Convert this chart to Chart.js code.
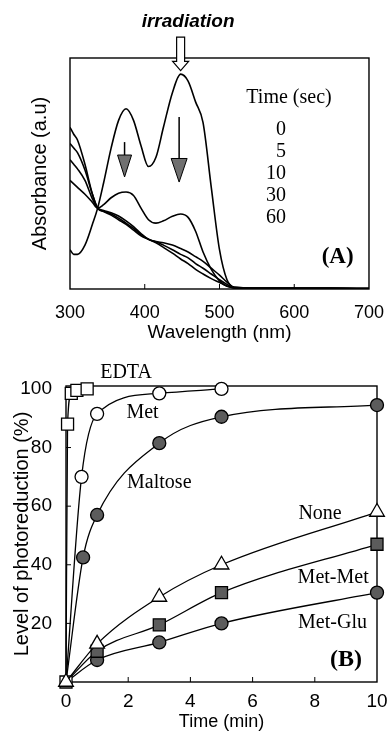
<!DOCTYPE html>
<html>
<head>
<meta charset="utf-8">
<script src="https://cdn.jsdelivr.net/npm/chart.js@4"></script>
<style>
  body { margin: 0; background: #fff; overflow: hidden; }
  canvas { position: absolute; left: 0; display: block; }
</style>
</head>
<body>
<canvas id="spectra" width="389" height="350" style="top:0"></canvas>
<canvas id="photo" width="389" height="383" style="top:350px"></canvas>
<script>
// panel A - absorption spectra (arbitrary units)
const wavelength = [300,305,310,320,330,337,345,355,365,375,385,395,405,415,425,437,448,458,468,478,489,500,510,520,550,600,650,700];
const abs0  = [.17,.15,.15,.19,.28,.35,.46,.61,.73,.78,.73,.62,.53,.57,.70,.85,.93,.90,.81,.72,.44,.17,.04,.008,.004,.003,.003,.002];
const abs5  = [.47,.455,.44,.41,.375,.35,.365,.395,.415,.42,.405,.35,.30,.285,.295,.315,.325,.31,.25,.16,.085,.035,.012,.005,.003,.003,.003,.002];
const abs10 = [.56,.54,.52,.47,.39,.35,.34,.33,.316,.295,.27,.24,.215,.205,.20,.19,.175,.16,.14,.12,.09,.06,.03,.006,.003,.003,.003,.002];
const abs30 = [.63,.61,.59,.515,.41,.35,.337,.325,.307,.285,.262,.235,.215,.205,.19,.17,.15,.135,.11,.09,.065,.04,.02,.005,.003,.003,.003,.002];
const abs60 = [.70,.67,.645,.54,.41,.35,.335,.32,.30,.28,.255,.23,.215,.20,.18,.155,.13,.11,.085,.065,.045,.028,.013,.004,.003,.003,.003,.002];
const timeSec = ['0', '5', '10', '30', '60'];

// panel B - level of photoreduction (%) vs time (min)
const edtaTime = [0, 0.05, 0.17, 0.35, 0.68];
const edta     = [0, 88, 98.5, 99.5, 100];
const metTime  = [0, 0.5, 1, 3, 5];
const met      = [0, 70, 91.5, 98.5, 100];
const maltoseTime = [0, 0.55, 1, 3, 5, 10];
const maltose     = [0, 42.5, 57, 81.5, 90.5, 94.5];
const stdTime = [0, 1, 3, 5, 10];
const none    = [0, 13, 29, 40, 58];
const metMet  = [0, 10.5, 19.5, 30.5, 47];
const metGlu  = [0, 7.5, 13.5, 20, 30.5];
const percentTicks = [20, 40, 60, 80, 100];

const xy = (xs, ys) => xs.map((x, i) => ({ x: x, y: ys[i] }));

Chart.defaults.font.family = '"Liberation Sans", Arial, sans-serif';
Chart.defaults.color = '#000';
Chart.defaults.animation = false;

const SERIF = '"Liberation Serif", "Times New Roman", serif';

// box around the plot + small inward ticks
function frame(ticksX, ticksY) {
  return {
    id: 'frame',
    beforeDatasetsDraw(chart) {
      const { ctx, chartArea: a, scales } = chart;
      ctx.save();
      ctx.strokeStyle = '#000';
      ctx.lineWidth = 1.4;
      ctx.strokeRect(a.left, a.top, a.right - a.left, a.bottom - a.top);
      ctx.lineWidth = 1;
      ctx.beginPath();
      ticksX.forEach(v => {
        const px = scales.x.getPixelForValue(v);
        ctx.moveTo(px, a.bottom); ctx.lineTo(px, a.bottom - 5);
      });
      ticksY.forEach(v => {
        const py = scales.y.getPixelForValue(v);
        ctx.moveTo(a.left, py); ctx.lineTo(a.left + 5, py);
      });
      ctx.stroke();
      ctx.restore();
    }
  };
}

function text(ctx, s, x, y, font, align) {
  ctx.font = font;
  ctx.textAlign = align || 'center';
  ctx.textBaseline = 'middle';
  ctx.fillText(s, x, y);
}

function grayArrow(ctx, x, yTop, yHead, yTip, half) {
  ctx.beginPath();
  ctx.moveTo(x, yTop); ctx.lineTo(x, yHead);
  ctx.lineWidth = 1.5; ctx.stroke();
  ctx.beginPath();
  ctx.moveTo(x - half, yHead); ctx.lineTo(x + half, yHead); ctx.lineTo(x, yTip); ctx.closePath();
  ctx.fillStyle = '#707070'; ctx.fill();
  ctx.lineWidth = 1; ctx.stroke();
}

const notesA = {
  id: 'notesA',
  afterDraw(chart) {
    const { ctx, scales: { x, y } } = chart;
    ctx.save();
    ctx.fillStyle = '#000';
    ctx.strokeStyle = '#000';
    text(ctx, 'irradiation', x.getPixelForValue(458), y.getPixelForValue(1.156), 'italic bold 19px "Liberation Sans", Arial, sans-serif');

    // hollow irradiation arrow
    const ax = x.getPixelForValue(448);
    const t = y.getPixelForValue(1.09), hb = y.getPixelForValue(0.985), tip = y.getPixelForValue(0.945);
    ctx.beginPath();
    ctx.moveTo(ax - 4, t); ctx.lineTo(ax + 4, t); ctx.lineTo(ax + 4, hb); ctx.lineTo(ax + 8, hb);
    ctx.lineTo(ax, tip); ctx.lineTo(ax - 8, hb); ctx.lineTo(ax - 4, hb); ctx.closePath();
    ctx.fillStyle = '#fff'; ctx.fill();
    ctx.lineWidth = 1.2; ctx.stroke();

    grayArrow(ctx, x.getPixelForValue(373), y.getPixelForValue(0.636), y.getPixelForValue(0.58), y.getPixelForValue(0.485), 7);
    grayArrow(ctx, x.getPixelForValue(446), y.getPixelForValue(0.745), y.getPixelForValue(0.565), y.getPixelForValue(0.463), 8);

    ctx.fillStyle = '#000';
    text(ctx, 'Time (sec)', x.getPixelForValue(593), y.getPixelForValue(0.83), '20px ' + SERIF);
    const rows = [0.688, 0.593, 0.498, 0.403, 0.307];
    timeSec.forEach((s, i) => text(ctx, s, x.getPixelForValue(589), y.getPixelForValue(rows[i]), '20px ' + SERIF, 'right'));
    text(ctx, '(A)', x.getPixelForValue(658), y.getPixelForValue(0.139), 'bold 23px ' + SERIF);
    ctx.restore();
  }
};

const spectraSets = [abs0, abs5, abs10, abs30, abs60].map(v => ({
  data: xy(wavelength, v),
  borderColor: '#000',
  borderWidth: 1.6,
  pointRadius: 0,
  cubicInterpolationMode: 'monotone',
  fill: false
}));

new Chart(document.getElementById('spectra'), {
  type: 'line',
  data: { datasets: spectraSets },
  options: {
    responsive: false,
    layout: { padding: { top: 58, right: 16, left: 0, bottom: 0 } },
    plugins: { legend: { display: false }, tooltip: { enabled: false } },
    scales: {
      x: {
        type: 'linear', min: 300, max: 700,
        afterFit: s => { s.height = 61; },
        grid: { display: false }, border: { display: false },
        ticks: { stepSize: 100, padding: 5, font: { size: 18 }, maxRotation: 0, autoSkip: false },
        title: { display: true, text: 'Wavelength (nm)', font: { size: 19 }, padding: { top: 0, bottom: 6 } }
      },
      y: {
        min: 0, max: 1,
        afterFit: s => { s.width = 70; },
        grid: { display: false }, border: { display: false },
        ticks: { display: false },
        title: { display: true, text: 'Absorbance (a.u)', font: { size: 20 }, padding: { top: 28, bottom: 0 } }
      }
    }
  },
  plugins: [frame([400, 500, 600], []), notesA]
});

// panel B
const notesB = {
  id: 'notesB',
  afterDraw(chart) {
    const { ctx, scales: { x, y } } = chart;
    ctx.save();
    ctx.fillStyle = '#000';
    const f = '20px ' + SERIF;
    text(ctx, 'EDTA', x.getPixelForValue(1.93), y.getPixelForValue(105.5), f);
    text(ctx, 'Met', x.getPixelForValue(2.46), y.getPixelForValue(91.8), f);
    text(ctx, 'Maltose', x.getPixelForValue(3.0), y.getPixelForValue(67.9), f);
    text(ctx, 'None', x.getPixelForValue(8.17), y.getPixelForValue(57.3), f);
    text(ctx, 'Met-Met', x.getPixelForValue(8.59), y.getPixelForValue(35.5), f);
    text(ctx, 'Met-Glu', x.getPixelForValue(8.57), y.getPixelForValue(20.1), f);
    text(ctx, '(B)', x.getPixelForValue(9.0), y.getPixelForValue(7.5), 'bold 24px ' + SERIF);
    ctx.restore();
  }
};

const FILLED = '#5c5c5c';
function series(xs, ys, style, fillColor, radius, hideOrigin) {
  return {
    data: xy(xs, ys),
    borderColor: '#000',
    borderWidth: 1.3,
    pointStyle: style,
    pointBackgroundColor: fillColor,
    pointBorderColor: '#000',
    pointBorderWidth: 1.3,
    pointRadius: ys.map((v, i) => (i === 0 && hideOrigin) ? 0 : radius),
    cubicInterpolationMode: 'monotone',
    clip: false,
    fill: false
  };
}

new Chart(document.getElementById('photo'), {
  type: 'line',
  data: {
    datasets: [
      series(stdTime, none, 'triangle', '#fff', 8.5, false),
      series(edtaTime, edta, 'rect', '#fff', 8.5, false),
      series(metTime, met, 'circle', '#fff', 6.5, true),
      series(maltoseTime, maltose, 'circle', FILLED, 6.5, true),
      series(stdTime, metMet, 'rect', FILLED, 8.5, true),
      series(stdTime, metGlu, 'circle', FILLED, 6.5, true)
    ]
  },
  options: {
    responsive: false,
    layout: { padding: { top: 36, right: 12, left: 0, bottom: 0 } },
    plugins: { legend: { display: false }, tooltip: { enabled: false } },
    scales: {
      x: {
        type: 'linear', min: 0, max: 10,
        afterFit: s => { s.height = 51; },
        grid: { display: false }, border: { display: false },
        ticks: { stepSize: 2, padding: 0, font: { size: 19 }, maxRotation: 0, autoSkip: false },
        title: { display: true, text: 'Time (min)', font: { size: 18 }, padding: { top: 0, bottom: 0 } }
      },
      y: {
        min: 0, max: 101,
        afterFit: s => { s.width = 66; },
        afterBuildTicks: s => { s.ticks = percentTicks.map(v => ({ value: v })); },
        grid: { display: false }, border: { display: false },
        ticks: { padding: 6, font: { size: 19 } },
        title: { display: true, text: 'Level of photoreduction (%)', font: { size: 20 }, padding: { top: 10, bottom: 0 } }
      }
    }
  },
  plugins: [frame([2, 4, 6, 8], [20, 40, 60, 80]), notesB]
});
</script>
</body>
</html>
